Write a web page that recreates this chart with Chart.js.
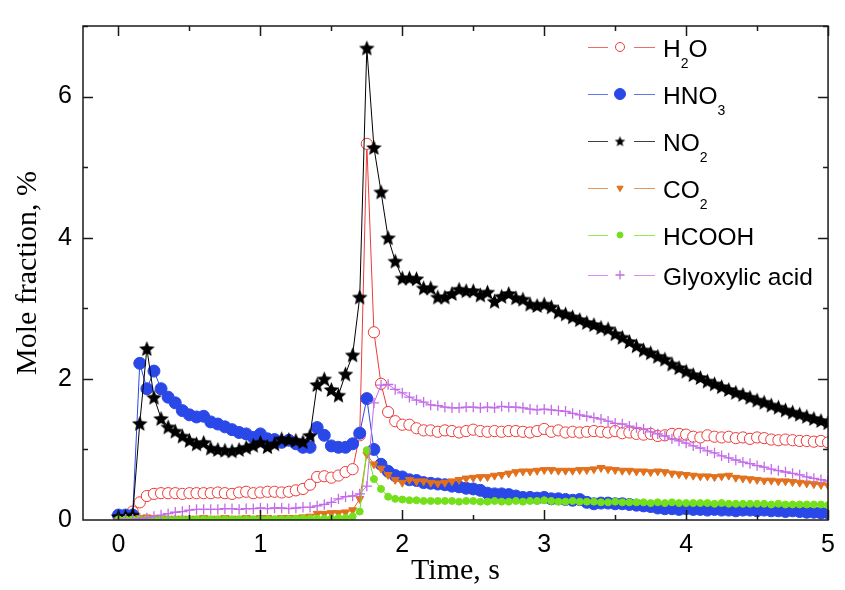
<!DOCTYPE html>
<html>
<head>
<meta charset="utf-8">
<script src="https://cdn.jsdelivr.net/npm/chart.js@4.4.0/dist/chart.umd.min.js"></script>
<style>
  html, body { margin: 0; padding: 0; background: #fff; }
</style>
</head>
<body>
<canvas id="chart" width="845" height="590"></canvas>
<script>
// Time axis (s)
const times = [
  0.00, 0.05, 0.10, 0.15, 0.20, 0.25, 0.30, 0.35, 0.40, 0.45,
  0.50, 0.55, 0.60, 0.65, 0.70, 0.75, 0.80, 0.85, 0.90, 0.95,
  1.00, 1.05, 1.10, 1.15, 1.20, 1.25, 1.30, 1.35, 1.40, 1.45,
  1.50, 1.55, 1.60, 1.65, 1.70, 1.75, 1.80, 1.85, 1.90, 1.95,
  2.00, 2.05, 2.10, 2.15, 2.20, 2.25, 2.30, 2.35, 2.40, 2.45,
  2.50, 2.55, 2.60, 2.65, 2.70, 2.75, 2.80, 2.85, 2.90, 2.95,
  3.00, 3.05, 3.10, 3.15, 3.20, 3.25, 3.30, 3.35, 3.40, 3.45,
  3.50, 3.55, 3.60, 3.65, 3.70, 3.75, 3.80, 3.85, 3.90, 3.95,
  4.00, 4.05, 4.10, 4.15, 4.20, 4.25, 4.30, 4.35, 4.40, 4.45,
  4.50, 4.55, 4.60, 4.65, 4.70, 4.75, 4.80, 4.85, 4.90, 4.95,
  5.00
];

// Mole fractions, %
const h2o = [
  0.05, 0.05, 0.12, 0.25, 0.34, 0.37, 0.38, 0.38, 0.38, 0.37,
  0.38, 0.38, 0.38, 0.38, 0.39, 0.38, 0.37, 0.39, 0.40, 0.38,
  0.39, 0.40, 0.40, 0.39, 0.40, 0.42, 0.44, 0.50, 0.61, 0.62,
  0.60, 0.63, 0.68, 0.72, 1.20, 5.33, 2.66, 1.93, 1.53, 1.40,
  1.35, 1.35, 1.30, 1.27, 1.27, 1.25, 1.27, 1.26, 1.24, 1.26,
  1.28, 1.26, 1.25, 1.26, 1.25, 1.26, 1.26, 1.25, 1.24, 1.26,
  1.29, 1.25, 1.27, 1.24, 1.25, 1.24, 1.25, 1.26, 1.25, 1.24,
  1.26, 1.23, 1.24, 1.22, 1.21, 1.22, 1.19, 1.20, 1.22, 1.22,
  1.21, 1.18, 1.17, 1.20, 1.18, 1.17, 1.18, 1.16, 1.17, 1.15,
  1.17, 1.16, 1.14, 1.13, 1.14, 1.13, 1.12, 1.12, 1.11, 1.12,
  1.10
];
const hno3 = [
  0.07, 0.07, 0.07, 2.22, 1.86, 2.11, 1.86, 1.74, 1.66, 1.55,
  1.49, 1.46, 1.47, 1.39, 1.36, 1.32, 1.28, 1.24, 1.22, 1.17,
  1.22, 1.15, 1.14, 1.10, 1.13, 1.08, 1.03, 1.03, 1.31, 1.20,
  1.05, 1.03, 1.03, 1.08, 1.23, 1.72, 1.00, 0.79, 0.69, 0.63,
  0.61, 0.57, 0.56, 0.53, 0.52, 0.51, 0.50, 0.48, 0.47, 0.45,
  0.44, 0.42, 0.38, 0.37, 0.37, 0.36, 0.34, 0.32, 0.32, 0.31,
  0.32, 0.30, 0.30, 0.29, 0.28, 0.29, 0.25, 0.23, 0.24, 0.24,
  0.23, 0.23, 0.22, 0.21, 0.20, 0.19, 0.17, 0.16, 0.16, 0.15,
  0.16, 0.15, 0.15, 0.14, 0.15, 0.14, 0.14, 0.13, 0.14, 0.14,
  0.13, 0.14, 0.13, 0.13, 0.12, 0.13, 0.12, 0.11, 0.11, 0.10,
  0.10
];
const no2 = [
  0.05, 0.05, 0.07, 1.37, 2.43, 1.74, 1.44, 1.32, 1.26, 1.19,
  1.13, 1.08, 1.10, 1.02, 1.00, 0.99, 0.98, 1.00, 1.03, 1.06,
  1.10, 1.04, 1.08, 1.15, 1.14, 1.13, 1.11, 1.20, 1.92, 2.00,
  1.85, 1.77, 2.07, 2.34, 3.16, 6.69, 5.28, 4.65, 4.00, 3.67,
  3.43, 3.43, 3.42, 3.29, 3.29, 3.16, 3.16, 3.21, 3.27, 3.25,
  3.25, 3.19, 3.23, 3.10, 3.17, 3.21, 3.15, 3.13, 3.06, 3.04,
  3.06, 3.02, 2.95, 2.92, 2.88, 2.84, 2.80, 2.77, 2.73, 2.71,
  2.64, 2.59, 2.53, 2.47, 2.41, 2.37, 2.32, 2.28, 2.21, 2.16,
  2.11, 2.06, 2.02, 1.97, 1.93, 1.89, 1.85, 1.81, 1.78, 1.74,
  1.70, 1.67, 1.63, 1.60, 1.56, 1.53, 1.50, 1.47, 1.44, 1.41,
  1.38
];
const co2 = [
  0.00, 0.00, 0.01, 0.03, 0.04, 0.03, 0.02, 0.02, 0.02, 0.02,
  0.02, 0.02, 0.03, 0.02, 0.02, 0.03, 0.02, 0.02, 0.03, 0.02,
  0.03, 0.03, 0.02, 0.03, 0.03, 0.03, 0.04, 0.05, 0.09, 0.09,
  0.10, 0.10, 0.11, 0.14, 0.30, 0.93, 0.79, 0.73, 0.64, 0.57,
  0.53, 0.57, 0.55, 0.55, 0.53, 0.52, 0.53, 0.55, 0.57, 0.59,
  0.60, 0.61, 0.61, 0.63, 0.64, 0.66, 0.68, 0.69, 0.69, 0.70,
  0.71, 0.71, 0.70, 0.70, 0.70, 0.71, 0.71, 0.72, 0.74, 0.72,
  0.71, 0.70, 0.70, 0.69, 0.69, 0.68, 0.69, 0.68, 0.66, 0.65,
  0.64, 0.63, 0.62, 0.62, 0.61, 0.62, 0.63, 0.60, 0.59, 0.58,
  0.57, 0.56, 0.56, 0.55, 0.55, 0.54, 0.53, 0.52, 0.51, 0.50,
  0.49
];
const hcooh = [
  0.01, 0.01, 0.01, 0.01, 0.01, 0.01, 0.01, 0.01, 0.01, 0.01,
  0.01, 0.01, 0.01, 0.01, 0.01, 0.01, 0.01, 0.01, 0.01, 0.01,
  0.01, 0.01, 0.01, 0.01, 0.01, 0.02, 0.02, 0.02, 0.02, 0.02,
  0.02, 0.03, 0.03, 0.05, 0.12, 0.99, 0.58, 0.44, 0.33, 0.30,
  0.29, 0.28, 0.28, 0.27, 0.27, 0.27, 0.27, 0.27, 0.26, 0.27,
  0.27, 0.26, 0.26, 0.27, 0.26, 0.26, 0.27, 0.26, 0.27, 0.27,
  0.28, 0.27, 0.26, 0.26, 0.27, 0.26, 0.26, 0.26, 0.25, 0.25,
  0.26, 0.25, 0.25, 0.25, 0.25, 0.24, 0.25, 0.24, 0.25, 0.24,
  0.24, 0.24, 0.24, 0.24, 0.23, 0.24, 0.23, 0.23, 0.23, 0.23,
  0.23, 0.23, 0.22, 0.23, 0.22, 0.22, 0.22, 0.22, 0.22, 0.22,
  0.21
];
const glyoxylic = [
  0.01, 0.01, 0.01, 0.02, 0.03, 0.05, 0.07, 0.09, 0.11, 0.12,
  0.14, 0.15, 0.15, 0.15, 0.15, 0.16, 0.16, 0.15, 0.16, 0.16,
  0.17, 0.16, 0.17, 0.17, 0.16, 0.17, 0.18, 0.18, 0.20, 0.22,
  0.25, 0.30, 0.33, 0.34, 0.37, 0.48, 1.66, 1.91, 1.92, 1.85,
  1.80, 1.74, 1.70, 1.67, 1.63, 1.62, 1.60, 1.59, 1.59, 1.60,
  1.60, 1.59, 1.60, 1.59, 1.61, 1.60, 1.60, 1.59, 1.57, 1.56,
  1.57, 1.56, 1.55, 1.54, 1.51, 1.49, 1.47, 1.45, 1.43, 1.40,
  1.37, 1.36, 1.33, 1.31, 1.29, 1.25, 1.22, 1.19, 1.15, 1.12,
  1.09, 1.05, 1.02, 0.98, 0.95, 0.91, 0.88, 0.85, 0.82, 0.80,
  0.77, 0.75, 0.72, 0.70, 0.68, 0.66, 0.64, 0.61, 0.59, 0.57,
  0.55
];

// Legend names split into [text, subscript, text]
const names = [
  ['H', '2', 'O'],
  ['HNO', '3', ''],
  ['NO', '2', ''],
  ['CO', '2', ''],
  ['HCOOH', '', ''],
  ['Glyoxylic acid', '', '']
];

const xTicks = [0, 1, 2, 3, 4, 5];
const yTicks = [0, 2, 4, 6];

const RED = '#ee3a3a';
const BLUE = '#2a48e8';
const BLACK = '#000000';
const ORANGE = '#e2711d';
const GREEN = '#74e01c';
const VIOLET = '#c46ce8';

const SANS = '"Liberation Sans", Arial, sans-serif';
const SERIF = '"Liberation Serif", "Times New Roman", serif';

// filled five-point star used as a point image
function starImage(r, color) {
  const c = document.createElement('canvas');
  const s = Math.ceil(r * 2 + 2);
  c.width = s; c.height = s;
  const g = c.getContext('2d');
  g.fillStyle = color;
  g.beginPath();
  for (let i = 0; i < 10; i++) {
    const rad = i % 2 ? r * 0.45 : r;
    const a = -Math.PI / 2 + i * Math.PI / 5;
    g.lineTo(s / 2 + rad * Math.cos(a), s / 2 + 0.8 + rad * Math.sin(a));
  }
  g.closePath();
  g.fill();
  return c;
}

const bigStar = starImage(8.2, BLACK);
const smallStar = starImage(5.5, BLACK);

const pts = arr => times.map((t, i) => ({ x: t, y: arr[i] }));

const series = [
  { data: h2o, color: RED, style: 'circle', radius: 5.6, fill: '#ffffff', bw: 1, legendR: 4.5 },
  { data: hno3, color: BLUE, style: 'circle', radius: 6, fill: BLUE, bw: 1, legendR: 5.5 },
  { data: no2, color: BLACK, style: bigStar, radius: 8, fill: BLACK, bw: 1, legendR: 5 },
  { data: co2, color: ORANGE, style: 'triangle', radius: 4.6, fill: ORANGE, bw: 1, rot: 180, legendR: 3.6 },
  { data: hcooh, color: GREEN, style: 'circle', radius: 3.5, fill: GREEN, bw: 1, legendR: 3 },
  { data: glyoxylic, color: VIOLET, style: 'cross', radius: 5.2, fill: VIOLET, bw: 1.3, legendR: 4.5 }
];

const datasets = series.map((s, i) => ({
  label: names[i].join(''),
  data: pts(s.data),
  borderColor: s.color,
  borderWidth: 1,
  pointStyle: s.style,
  pointRadius: s.radius,
  pointBackgroundColor: s.fill,
  pointBorderColor: s.color,
  pointBorderWidth: s.bw,
  pointRotation: s.rot || 0,
  tension: 0,
  order: 10 - i
}));

// box, inward ticks on all four sides
const framePlugin = {
  id: 'frame',
  afterDatasetsDraw(chart) {
    const { ctx, chartArea: a, scales: { x, y } } = chart;
    ctx.save();
    ctx.strokeStyle = '#1a1a1a';
    ctx.lineWidth = 1.5;
    ctx.strokeRect(a.left, a.top, a.right - a.left, a.bottom - a.top);
    ctx.beginPath();
    for (let v = 0; v <= 5.001; v += 0.5) {
      const px = Math.round(x.getPixelForValue(v)) + 0.5;
      const len = Math.abs(v - Math.round(v)) < 1e-6 ? 10 : 5;
      ctx.moveTo(px, a.bottom); ctx.lineTo(px, a.bottom - len);
      ctx.moveTo(px, a.top); ctx.lineTo(px, a.top + len);
    }
    for (let v = 1; v <= 7; v += 1) {
      const py = Math.round(y.getPixelForValue(v)) + 0.5;
      const len = v % 2 === 0 ? 10 : 5;
      ctx.moveTo(a.left, py); ctx.lineTo(a.left + len, py);
      ctx.moveTo(a.right, py); ctx.lineTo(a.right - len, py);
    }
    ctx.stroke();
    ctx.restore();
  }
};

// legend with subscripted formulas
const legendPlugin = {
  id: 'formulaLegend',
  afterDraw(chart) {
    const { ctx } = chart;
    ctx.save();
    let rowY = 47;
    series.forEach((s, i) => {
      const [pre, sub, post] = names[i];
      const mx = 620;
      ctx.strokeStyle = s.color;
      ctx.fillStyle = s.fill;
      ctx.lineWidth = 1;
      ctx.globalAlpha = 0.75;
      ctx.beginPath();
      ctx.moveTo(588, rowY + 0.5); ctx.lineTo(608, rowY + 0.5);
      ctx.moveTo(634, rowY + 0.5); ctx.lineTo(655, rowY + 0.5);
      ctx.stroke();
      ctx.globalAlpha = 1;
      if (s.style === bigStar) {
        ctx.drawImage(smallStar, mx - smallStar.width / 2, rowY - smallStar.height / 2);
      } else {
        ctx.lineWidth = s.bw;
        Chart.helpers.drawPoint(ctx, {
          pointStyle: s.style,
          radius: s.legendR,
          rotation: s.rot || 0,
          borderWidth: s.bw
        }, mx, rowY);
      }
      ctx.fillStyle = '#000';
      ctx.textBaseline = 'alphabetic';
      ctx.textAlign = 'left';
      const base = rowY + 9.5;
      let tx = 663;
      ctx.font = '24.5px ' + SANS;
      ctx.fillText(pre, tx, base);
      tx += ctx.measureText(pre).width;
      if (sub) {
        ctx.font = '14px ' + SANS;
        ctx.fillText(sub, tx, base + 11);
        tx += ctx.measureText(sub).width;
        ctx.font = '24.5px ' + SANS;
        ctx.fillText(post, tx, base);
      }
      rowY += sub ? 47 : 40;
    });
    ctx.restore();
  }
};

new Chart(document.getElementById('chart').getContext('2d'), {
  type: 'line',
  data: { datasets: datasets },
  options: {
    responsive: false,
    animation: false,
    devicePixelRatio: 1,
    layout: { padding: { left: 0, right: 9, top: 13, bottom: 0 } },
    plugins: {
      legend: { display: false },
      tooltip: { enabled: false }
    },
    scales: {
      x: {
        type: 'linear',
        min: -0.25,
        max: 5,
        afterBuildTicks: s => { s.ticks = xTicks.map(v => ({ value: v })); },
        afterFit: s => { s.height = 70; },
        grid: { display: false, drawTicks: false },
        border: { display: false },
        ticks: {
          color: '#000',
          font: { family: SANS, size: 25 },
          padding: 10,
          maxRotation: 0,
          callback: v => String(v)
        },
        title: {
          display: true,
          text: 'Time, s',
          color: '#000',
          font: { family: SERIF, size: 30 },
          padding: { top: 0, bottom: 1 }
        }
      },
      y: {
        type: 'linear',
        min: 0,
        max: 7,
        afterBuildTicks: s => { s.ticks = yTicks.map(v => ({ value: v })); },
        afterFit: s => { s.width = 83; },
        grid: { display: false, drawTicks: false },
        border: { display: false },
        ticks: {
          color: '#000',
          font: { family: SANS, size: 25 },
          padding: 11,
          callback: v => String(v)
        },
        title: {
          display: true,
          text: 'Mole fraction, %',
          color: '#000',
          font: { family: SERIF, size: 30 },
          padding: { top: 10, bottom: 0 }
        }
      }
    }
  },
  plugins: [framePlugin, legendPlugin]
});
</script>
</body>
</html>
